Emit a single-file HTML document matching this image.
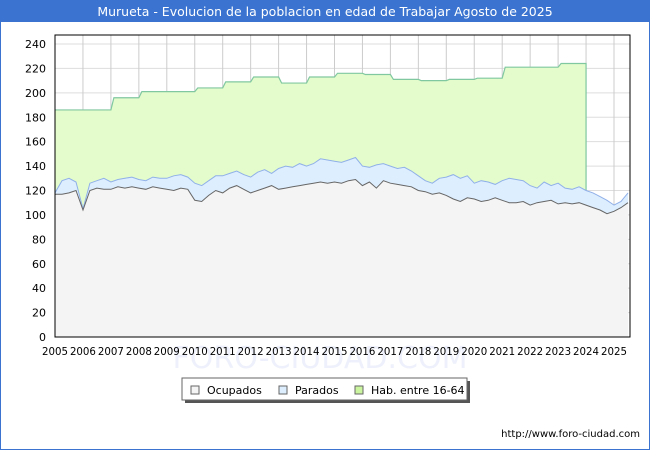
<!DOCTYPE html>
<html><head><meta charset="utf-8"><style>
body{margin:0;width:650px;height:450px;overflow:hidden;background:#fff;font-family:"DejaVu Sans","Liberation Sans",sans-serif}
</style></head><body>
<svg id="c" width="650" height="450" xmlns="http://www.w3.org/2000/svg">
<rect x="0" y="0" width="650" height="450" fill="#fff" stroke="#3a74d0" stroke-width="2"/>
<rect x="0" y="0" width="650" height="22" fill="#3a74d0"/>
<text x="325" y="16" text-anchor="middle" fill="#fff" font-size="12.5">Murueta - Evolucion de la poblacion en edad de Trabajar Agosto de 2025</text>
<text x="320" y="368" text-anchor="middle" fill="#eef1fb" font-size="30">FORO-CIUDAD.COM</text>
<g id="grid"></g><g id="series"></g><g id="axes"></g>
<g>
<rect x="185" y="381" width="285" height="22" fill="#555"/>
<rect x="182" y="378" width="285" height="22" fill="#fff" stroke="#666"/>
<rect x="191" y="386" width="8" height="8" fill="#f4f4f4" stroke="#666"/>
<text x="207" y="394" font-size="11">Ocupados</text>
<rect x="279" y="386" width="8" height="8" fill="#ddeeff" stroke="#666"/>
<text x="295" y="394" font-size="11">Parados</text>
<rect x="355" y="386" width="8" height="8" fill="#ccf5a0" stroke="#666"/>
<text x="371" y="394" font-size="11">Hab. entre 16-64</text>
</g>
<text x="640" y="437" text-anchor="end" font-size="10">http://www.foro-ciudad.com</text>
</svg>
<script>
const years=[2005,2006,2007,2008,2009,2010,2011,2012,2013,2014,2015,2016,2017,2018,2019,2020,2021,2022,2023,2024,2025];
const habYearly=[186,186,196,201,201,204,209,213,208,213,216,215,211,210,211,212,221,221,224];
const ocupados=[117,117,118,120,104,120,122,121,121,123,122,123,122,121,123,122,121,120,122,121,112,111,116,120,118,122,124,121,118,120,122,124,121,122,123,124,125,126,127,126,127,126,128,129,124,127,122,128,126,125,124,123,120,119,117,118,116,113,111,114,113,111,112,114,112,110,110,111,108,110,111,112,109,110,109,110,108,106,104,101,103,106,110];
const parados=[118,128,130,127,105,126,128,130,127,129,130,131,129,128,131,130,130,132,133,131,126,124,128,132,132,134,136,133,131,135,137,134,138,140,139,142,140,142,146,145,144,143,145,147,140,139,141,142,140,138,139,136,132,128,126,130,131,133,130,132,126,128,127,125,128,130,129,128,124,122,127,124,126,122,121,123,120,118,115,112,108,111,118];
const yTicks=[0,20,40,60,80,100,120,140,160,180,200,220,240];
const X0=55,X1=630,Y0=337,PY=293/240,PX=27.95;
const xs=t=>X0+(t-2005)*PX, ys=v=>Y0-v*PY;
const NS="http://www.w3.org/2000/svg";
function mk(tag,at,parent){const e=document.createElementNS(NS,tag);for(const k in at)e.setAttribute(k,at[k]);document.getElementById(parent).appendChild(e);return e;}
mk('rect',{x:X0,y:35,width:X1-X0,height:Y0-35,fill:'#fff'},'grid');
yTicks.forEach(v=>{const l=mk('line',{x1:X0,x2:X1,y1:ys(v),y2:ys(v),stroke:'#ddd'},'grid');


const t=mk('text',{x:X0-9,y:ys(v)+4,'text-anchor':'end','font-size':'11'},'axes');t.textContent=v;

});
years.forEach(y=>{const l=mk('line',{x1:xs(y),x2:xs(y),y1:35,y2:Y0,stroke:'#ccc'},'grid');


const t=mk('text',{x:xs(y),y:355,'text-anchor':'middle','font-size':'10.5',textLength:'26',lengthAdjust:'spacingAndGlyphs'},'axes');t.textContent=y;

});
let hp=[];habYearly.forEach((v,i)=>{const y=2005+i;hp.push([xs(y)+(i?3:0),ys(v)],[xs(y+1),ys(v)]);});
const habLine=hp.map((p,i)=>(i?'L':'M')+p[0]+','+p[1]).join('');
const hb=mk('path',{d:habLine+`L${hp[hp.length-1][0]},${Y0}L${X0},${Y0}Z`,fill:'#e4fccc'},'series');


const tq=i=>Math.min(2005+i*0.25,2025.58);
const pts=a=>a.map((v,i)=>[xs(tq(i)),ys(v)]);
const line=p=>p.map((q,i)=>(i?'L':'M')+q[0].toFixed(1)+','+q[1].toFixed(1)).join('');
const pp=pts(parados),op=pts(ocupados);
const pa=mk('path',{d:line(pp)+`L${pp[pp.length-1][0]},${Y0}L${X0},${Y0}Z`,fill:'#ddeeff'},'series');


const oa=mk('path',{d:line(op)+`L${op[op.length-1][0]},${Y0}L${X0},${Y0}Z`,fill:'#f4f4f4'},'series');


const hl=mk('path',{d:habLine+`L${hp[hp.length-1][0]},${ys(parados[76])}`,fill:'none',stroke:'#80c8a0','stroke-width':1.2},'series');


const pl=mk('path',{d:line(pp),fill:'none',stroke:'#90b0e8'},'series');


const ol=mk('path',{d:line(op),fill:'none',stroke:'#666'},'series');


const bx=mk('rect',{x:X0,y:35,width:X1-X0,height:Y0-35,fill:'none',stroke:'#000'},'axes');


</script>
</body></html>
